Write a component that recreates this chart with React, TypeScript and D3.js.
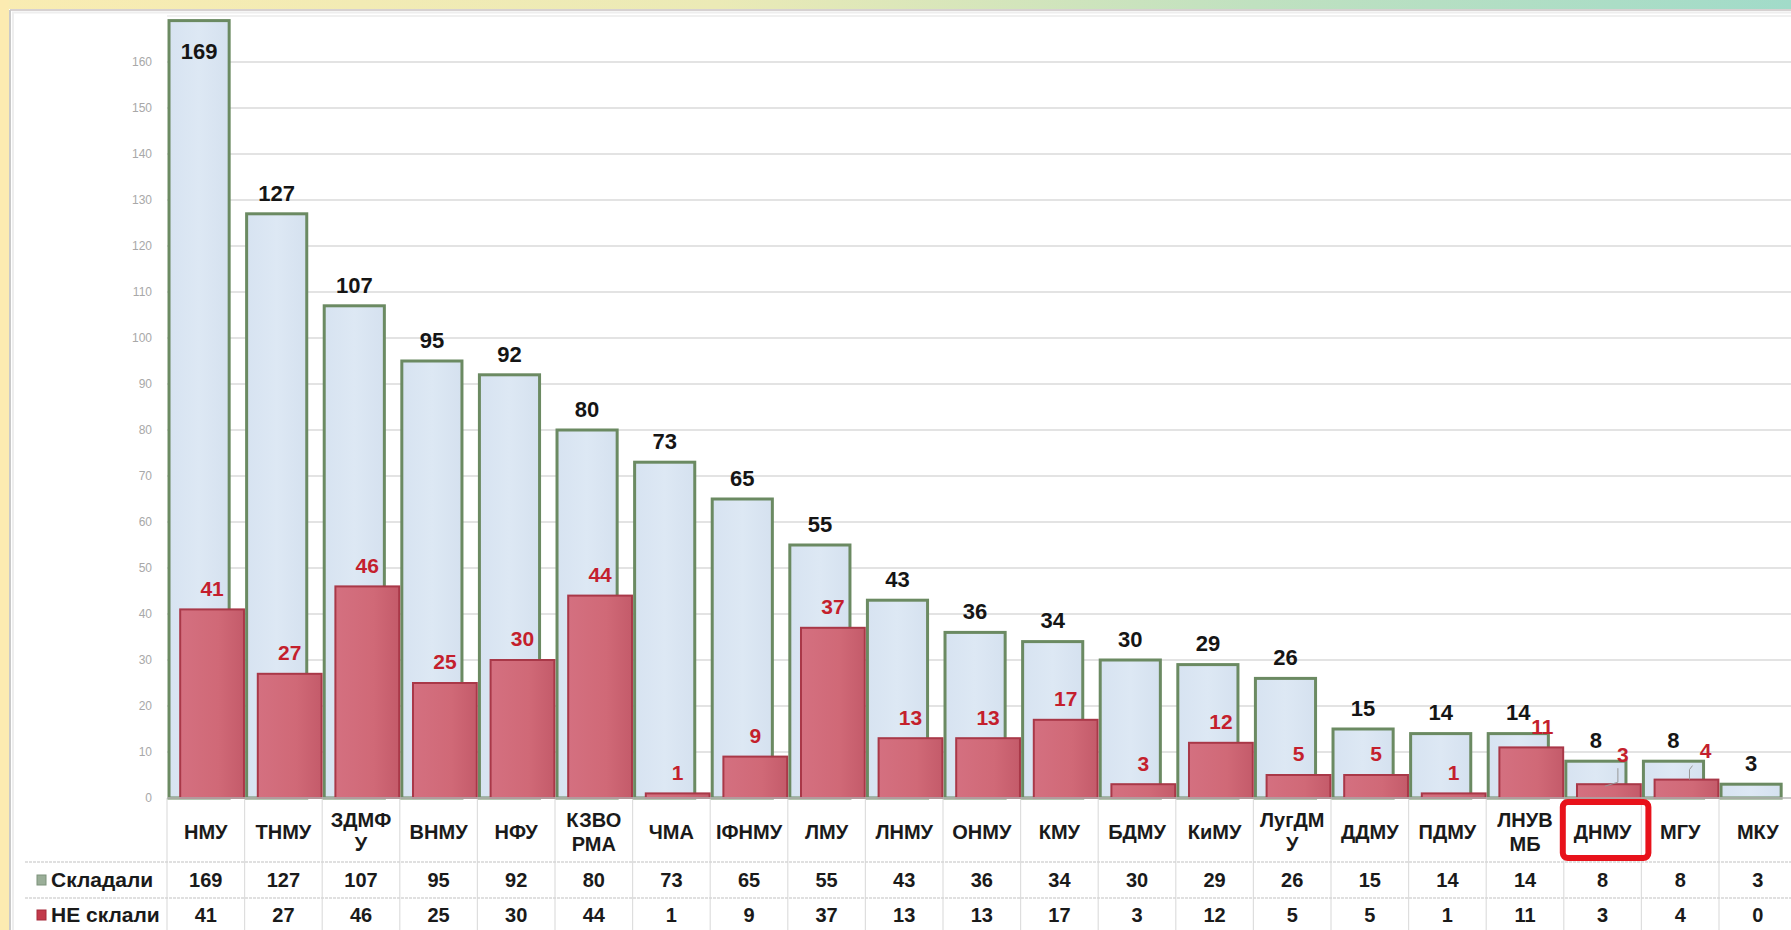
import React from "react";
import * as d3 from "d3";

const categories = ["НМУ","ТНМУ","ЗДМФ\nУ","ВНМУ","НФУ","КЗВО\nРМА","ЧМА","ІФНМУ","ЛМУ","ЛНМУ","ОНМУ","КМУ","БДМУ","КиМУ","ЛугДМ\nУ","ДДМУ","ПДМУ","ЛНУВ\nМБ","ДНМУ","МГУ","МКУ"];
const tookExam = [169,127,107,95,92,80,73,65,55,43,36,34,30,29,26,15,14,14,8,8,3];
const failedExam = [41,27,46,25,30,44,1,9,37,13,13,17,3,12,5,5,1,11,3,4,0];
const yTickValues = [0,10,20,30,40,50,60,70,80,90,100,110,120,130,140,150,160];
const seriesNames = ["Складали","НЕ склали"];
const highlightedCategory = "ДНМУ";

// label nudges for crowded labels (layout, not data)
const redLabelNudge: Record<string, [number, number]> = {
  "ЛНУВ\nМБ": [11, 0],
  "ДНМУ": [14, -9],
  "МГУ": [19, -8],
};

const W = 1791, H = 930;
const FONT = "'Liberation Sans', Arial, Helvetica, sans-serif";

export default function App() {
  const x = d3.scaleBand<string>().domain(categories).range([167, 167 + 21 * 77.6]).padding(0);
  const bw = x.bandwidth();
  const y = d3.scaleLinear().domain([0, 160]).range([798, 798 - 160 * 4.6]);
  const y0 = y(0);

  const blueX = (c: string) => x(c)! + bw * 0.026;
  const blueW = bw * 0.775;
  const redX = (c: string) => x(c)! + bw * 0.17;
  const redW = bw * 0.822;

  const rowY1 = 880, rowY2 = 915;

  return (
    <svg width={W} height={H} viewBox={`0 0 ${W} ${H}`}
      style={{ position: "absolute", left: 0, top: 0, display: "block", background: "#fff" }}
      fontFamily={FONT}>
      <defs>
        <linearGradient id="topband" x1="0" x2="1" y1="0" y2="0">
          <stop offset="0" stopColor="#f9ecb2" />
          <stop offset="0.4" stopColor="#ebeab6" />
          <stop offset="0.7" stopColor="#c0e1c0" />
          <stop offset="1" stopColor="#a1dbc9" />
        </linearGradient>
        <linearGradient id="bluefill" x1="0" x2="1" y1="0" y2="0">
          <stop offset="0" stopColor="#d7e3f1" />
          <stop offset="0.5" stopColor="#dde8f4" />
          <stop offset="1" stopColor="#d5e1ef" />
        </linearGradient>
        <linearGradient id="redfill" x1="0" x2="1" y1="0" y2="0">
          <stop offset="0" stopColor="#d47080" />
          <stop offset="0.6" stopColor="#d06977" />
          <stop offset="1" stopColor="#c45b6a" />
        </linearGradient>
      </defs>

      {/* page frame */}
      <rect x={0} y={0} width={W} height={H} fill="#fff" />
      <rect x={0} y={0} width={W} height={9} fill="url(#topband)" />
      <rect x={0} y={0} width={9} height={H} fill="#fcebb1" />
      <line x1={10} x2={W} y1={10} y2={10} stroke="#c9c2c2" strokeWidth={1.5} />
      <line x1={10} x2={10} y1={10} y2={H} stroke="#c9c9c9" strokeWidth={2} />
      <line x1={12} x2={W} y1={12.5} y2={12.5} stroke="#eeeeee" strokeWidth={2} />
      <line x1={13} x2={13} y1={12} y2={H} stroke="#eeeeee" strokeWidth={2} />

      {/* gridlines */}
      {[...yTickValues.slice(1), 170].map((t) => (
        <line key={"g" + t} x1={167} x2={W} y1={y(t)} y2={y(t)}
          stroke={t === 170 ? "#f0f0f0" : "#e3e3e3"} strokeWidth={2} />
      ))}

      {/* y tick labels */}
      {yTickValues.map((t) => (
        <text key={"t" + t} x={152} y={y(t)} dy="0.35em" textAnchor="end"
          fontSize={12} fill="#a8a8a8">{t}</text>
      ))}

      {/* table grid */}
      {d3.range(0, categories.length + 1).map((i) => {
        const xx = 167 + i * bw;
        return <line key={"v" + i} x1={xx} x2={xx} y1={y0} y2={H} stroke="#dedede" strokeWidth={1.2} />;
      })}
      <line x1={25} x2={W} y1={862} y2={862} stroke="#d6d6d6" strokeWidth={1.3} strokeDasharray="3 1" />
      <line x1={25} x2={W} y1={898} y2={898} stroke="#d6d6d6" strokeWidth={1.3} strokeDasharray="3 1" />

      {/* blue bars */}
      {categories.map((c, i) => (
        <rect key={"b" + i} x={blueX(c)} y={y(tookExam[i])} width={blueW}
          height={y0 - y(tookExam[i])} fill="url(#bluefill)" stroke="#6b8a62" strokeWidth={3} />
      ))}

      {/* red bars */}
      {categories.map((c, i) => failedExam[i] > 0 && (
        <rect key={"r" + i} x={redX(c)} y={y(failedExam[i])} width={redW}
          height={y0 - y(failedExam[i])} fill="url(#redfill)" stroke="#a93848" strokeWidth={2} />
      ))}

      {/* axis baseline */}
      <line x1={167} x2={W} y1={y0} y2={y0} stroke="#b8b8b8" strokeWidth={1.5} />

      {/* leader lines */}
      <polyline points={`${redX("ДНМУ") + redW / 2 + 9},${y(3) - 16} ${redX("ДНМУ") + redW / 2 + 9},${y(3) - 2} ${redX("ДНМУ") + redW / 2 - 4},${y(3) + 2}`}
        fill="none" stroke="#999" strokeWidth={1} />
      <polyline points={`${redX("МГУ") + redW / 2 + 6},${y(4) - 14} ${redX("МГУ") + redW / 2 + 3},${y(4) - 10} ${redX("МГУ") + redW / 2 + 3},${y(4)}`}
        fill="none" stroke="#999" strokeWidth={1} />

      {/* blue labels */}
      {categories.map((c, i) => {
        const cy = Math.max(y(tookExam[i]) - 21, 51);
        return (
          <text key={"bl" + i} x={blueX(c) + blueW / 2} y={cy} dy="0.35em" textAnchor="middle"
            fontSize={22} fontWeight="bold" fill="#151515">{tookExam[i]}</text>
        );
      })}

      {/* red labels */}
      {categories.map((c, i) => {
        if (failedExam[i] <= 0) return null;
        const [dx, dyy] = redLabelNudge[c] || [0, 0];
        return (
          <text key={"rl" + i} x={redX(c) + redW / 2 + dx} y={y(failedExam[i]) - 21 + dyy} dy="0.35em"
            textAnchor="middle" fontSize={21} fontWeight="bold" fill="#c41f2d">{failedExam[i]}</text>
        );
      })}

      {/* category labels */}
      {categories.map((c, i) => {
        const lines = c.split("\n");
        const cx = x(c)! + bw / 2;
        const ys = lines.length === 1 ? [832] : [820, 844];
        return (
          <g key={"c" + i}>
            {lines.map((ln, j) => (
              <text key={j} x={cx} y={ys[j]} dy="0.35em" textAnchor="middle"
                fontSize={20} fontWeight="bold" fill="#1a1a1a">{ln}</text>
            ))}
          </g>
        );
      })}

      {/* highlight box */}
      <rect x={x(highlightedCategory)! - 1} y={802} width={bw + 8} height={56} rx={5}
        fill="none" stroke="#e8121b" strokeWidth={6} />

      {/* legend + values rows */}
      <rect x={37} y={rowY1 - 5} width={9} height={10} fill="#9aae98" stroke="#7d927b" strokeWidth={1} />
      <rect x={37} y={rowY2 - 5} width={9} height={10} fill="#c23a4b" stroke="#a52a3a" strokeWidth={1} />
      <text x={51} y={rowY1} dy="0.35em" fontSize={21} fontWeight="bold" fill="#1a1a1a">{seriesNames[0]}</text>
      <text x={51} y={rowY2} dy="0.35em" fontSize={21} fontWeight="bold" fill="#1a1a1a">{seriesNames[1]}</text>
      {categories.map((c, i) => (
        <g key={"row" + i}>
          <text x={x(c)! + bw / 2} y={rowY1} dy="0.35em" textAnchor="middle" fontSize={20}
            fontWeight="bold" fill="#1a1a1a">{tookExam[i]}</text>
          <text x={x(c)! + bw / 2} y={rowY2} dy="0.35em" textAnchor="middle" fontSize={20}
            fontWeight="bold" fill="#1a1a1a">{failedExam[i]}</text>
        </g>
      ))}
    </svg>
  );
}
